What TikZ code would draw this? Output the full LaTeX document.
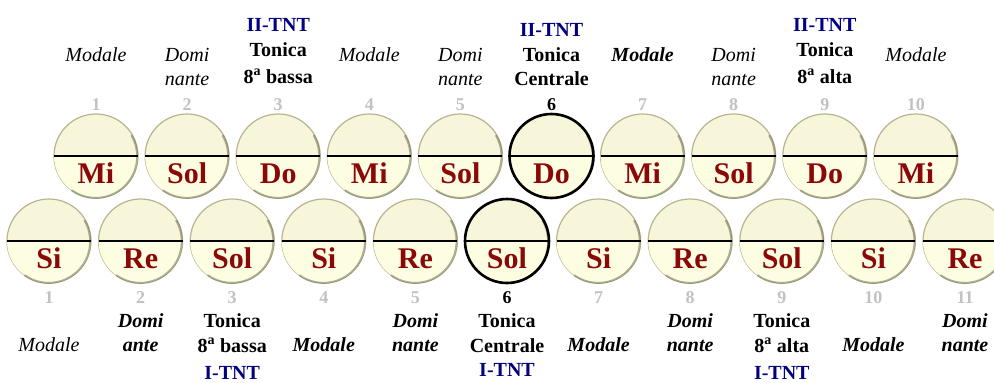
\documentclass[tikz,border=0pt]{standalone}
\usepackage{fontspec}
\setmainfont{Liberation Serif}
\definecolor{discup}{HTML}{F7F5DA}
\definecolor{disclow}{HTML}{FDFDE2}
\definecolor{discrim}{HTML}{B8B490}
\definecolor{discshadow}{HTML}{6E6E50}
\definecolor{notered}{HTML}{8B0808}
\definecolor{numgray}{HTML}{C2C2C2}
\definecolor{tntblue}{HTML}{000080}
\tikzset{
  disc/.style={circle, minimum size=84pt, inner sep=0pt, outer sep=0pt, fill=discup, draw=discrim, line width=1.2pt},
  lowhalf/.style={fill=disclow},
  rimshade/.style={draw=discshadow, line width=2pt, opacity=0.55, line cap=round},
  chord/.style={draw=black, line width=1.1pt},
  hlring/.style={draw=black, line width=2.6pt},
  notetxt/.style={anchor=base, inner sep=0pt, text=notered, font=\fontsize{30}{30}\selectfont\bfseries},
  numtxt/.style={anchor=base, inner sep=0pt, text=numgray, font=\fontsize{18}{18}\selectfont\bfseries},
  numhl/.style={numtxt, text=black},
  lab/.style={anchor=base, inner sep=0pt, font=\fontsize{20}{24}\selectfont},
  it/.style={lab, font=\fontsize{20}{24}\selectfont\itshape},
  bi/.style={lab, font=\fontsize{20}{24}\selectfont\bfseries\itshape},
  bd/.style={lab, font=\fontsize{20}{24}\selectfont\bfseries},
  tnt/.style={bd, text=tntblue},
}
\begin{document}
\begin{tikzpicture}[x=1pt,y=1pt]
\useasboundingbox (0,0) rectangle (994,-383);
\fill[white] (0,0) rectangle (994,-383);
% top row discs
\foreach \n [count=\i] in {Mi,Sol,Do,Mi,Sol,Do,Mi,Sol,Do,Mi} {
  \pgfmathsetmacro\xx{96+91.1*(\i-1)}
  \node[disc] (t\i) at (\xx,-156) {};
  \fill[lowhalf] (t\i.west) arc[start angle=180,end angle=360,radius=42pt] -- cycle;
  \draw[rimshade] (t\i.-125) arc[start angle=-125,end angle=30,radius=41.5pt];
  \draw[chord] (t\i.west) -- (t\i.east);
  \node[notetxt] (tn\i) at (\xx,-183) {\n};
}
% bottom row discs
\foreach \n [count=\i] in {Si,Re,Sol,Si,Re,Sol,Si,Re,Sol,Si,Re} {
  \pgfmathsetmacro\xx{49+91.6*(\i-1)}
  \node[disc] (b\i) at (\xx,-241) {};
  \fill[lowhalf] (b\i.west) arc[start angle=180,end angle=360,radius=42pt] -- cycle;
  \draw[rimshade] (b\i.-125) arc[start angle=-125,end angle=30,radius=41.5pt];
  \draw[chord] (b\i.west) -- (b\i.east);
  \node[notetxt] (bn\i) at (\xx,-268) {\n};
}
\draw[hlring] (t6.center) circle[radius=42pt];
\draw[hlring] (b6.center) circle[radius=42pt];
% numbers
\foreach \i in {1,...,10} {
  \pgfmathsetmacro\xx{96+91.1*(\i-1)}
  \ifnum\i=6
    \node[numhl] (tk\i) at (\xx,-110) {\i};
  \else
    \node[numtxt] (tk\i) at (\xx,-110) {\i};
  \fi
}
\foreach \i in {1,...,11} {
  \pgfmathsetmacro\xx{49+91.6*(\i-1)}
  \ifnum\i=6
    \node[numhl] (bk\i) at (\xx,-303) {\i};
  \else
    \node[numtxt] (bk\i) at (\xx,-303) {\i};
  \fi
}
% top labels
\node[it] (tl1) at (96,-61) {Modale};
\node[it] (tl2a) at (187.1,-61) {Domi};
\node[it] (tl2b) at (187.1,-85) {nante};
\node[tnt] (tl3a) at (278.2,-31) {II-TNT};
\node[bd] (tl3b) at (278.2,-56) {Tonica};
\node[bd] (tl3c) at (278.2,-83) {8\textsuperscript{a} bassa};
\node[it] (tl4) at (369.3,-61) {Modale};
\node[it] (tl5a) at (460.4,-61) {Domi};
\node[it] (tl5b) at (460.4,-85) {nante};
\node[tnt] (tl6a) at (551.5,-36) {II-TNT};
\node[bd] (tl6b) at (551.5,-61) {Tonica};
\node[bd] (tl6c) at (551.5,-85) {Centrale};
\node[bi] (tl7) at (642.6,-61) {Modale};
\node[it] (tl8a) at (733.7,-61) {Domi};
\node[it] (tl8b) at (733.7,-85) {nante};
\node[tnt] (tl9a) at (824.8,-31) {II-TNT};
\node[bd] (tl9b) at (824.8,-56) {Tonica};
\node[bd] (tl9c) at (824.8,-83) {8\textsuperscript{a} alta};
\node[it] (tl10) at (915.9,-61) {Modale};
% bottom labels
\node[it] (bl1) at (49,-351) {Modale};
\node[bi] (bl2a) at (140.6,-327) {Domi};
\node[bi] (bl2b) at (140.6,-351) {ante};
\node[bd] (bl3a) at (232.2,-327) {Tonica};
\node[bd] (bl3b) at (232.2,-352) {8\textsuperscript{a} bassa};
\node[tnt] (bl3c) at (232.2,-379) {I-TNT};
\node[bi] (bl4) at (323.8,-351) {Modale};
\node[bi] (bl5a) at (415.4,-327) {Domi};
\node[bi] (bl5b) at (415.4,-351) {nante};
\node[bd] (bl6a) at (507,-327) {Tonica};
\node[bd] (bl6b) at (507,-352) {Centrale};
\node[tnt] (bl6c) at (507,-376) {I-TNT};
\node[bi] (bl7) at (598.6,-351) {Modale};
\node[bi] (bl8a) at (690.2,-327) {Domi};
\node[bi] (bl8b) at (690.2,-351) {nante};
\node[bd] (bl9a) at (781.8,-327) {Tonica};
\node[bd] (bl9b) at (781.8,-352) {8\textsuperscript{a} alta};
\node[tnt] (bl9c) at (781.8,-379) {I-TNT};
\node[bi] (bl10) at (873.4,-351) {Modale};
\node[bi] (bl11a) at (965,-327) {Domi};
\node[bi] (bl11b) at (965,-351) {nante};
\end{tikzpicture}
\end{document}
